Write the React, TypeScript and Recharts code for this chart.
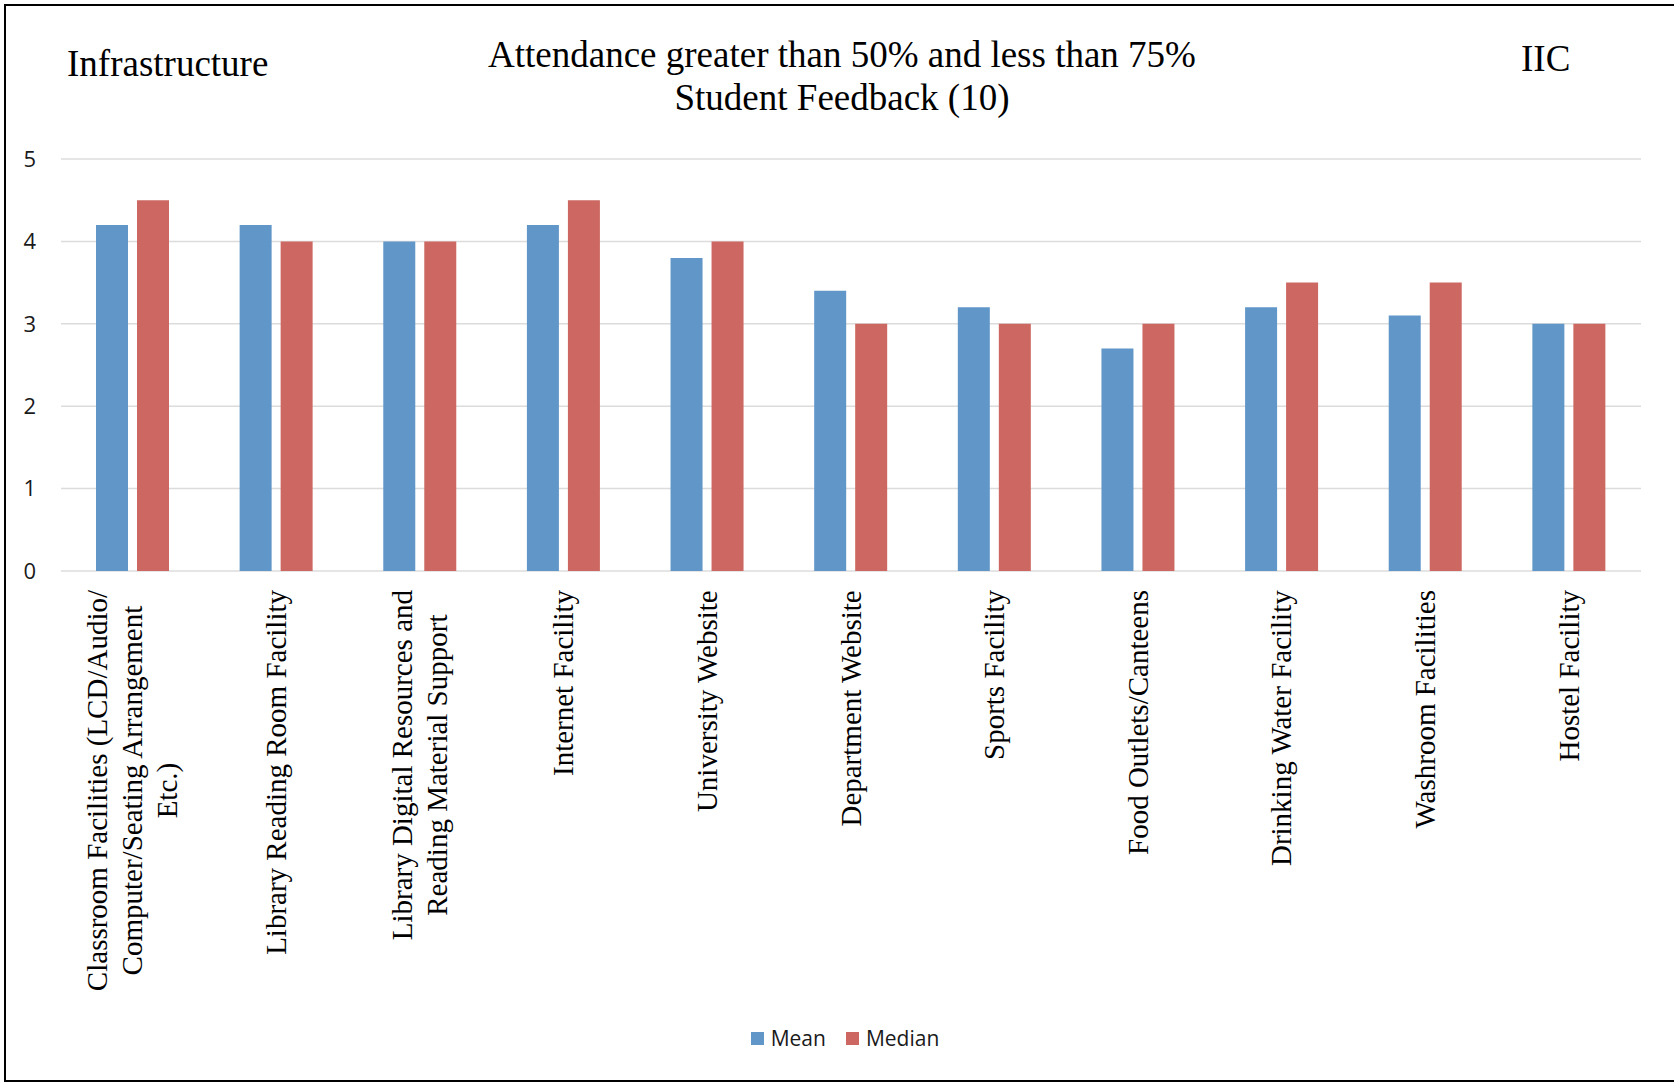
import { BarChart, Bar, XAxis, YAxis, CartesianGrid, Legend } from 'recharts'

const CATEGORIES = [
  ['Classroom Facilities (LCD/Audio/', 'Computer/Seating Arrangement', 'Etc.)'],
  ['Library Reading Room Facility'],
  ['Library Digital Resources and', 'Reading Material Support'],
  ['Internet Facility'],
  ['University Website'],
  ['Department Website'],
  ['Sports Facility'],
  ['Food Outlets/Canteens'],
  ['Drinking Water Facility'],
  ['Washroom Facilities'],
  ['Hostel Facility'],
]
const MEAN = [4.2, 4.2, 4.0, 4.2, 3.8, 3.4, 3.2, 2.7, 3.2, 3.1, 3.0]
const MEDIAN = [4.5, 4.0, 4.0, 4.5, 4.0, 3.0, 3.0, 3.0, 3.5, 3.5, 3.0]
const Y_TICKS = [0, 1, 2, 3, 4, 5]

const SERIES = [
  { key: 'mean', name: 'Mean', color: '#6196C8' },
  { key: 'median', name: 'Median', color: '#CD6761' },
]

const data = CATEGORIES.map((lines, i) => ({
  name: lines.join('\n'),
  mean: MEAN[i],
  median: MEDIAN[i],
}))

const SERIF = "'Liberation Serif', 'Times New Roman', serif"
const SANS = "'Open Sans', 'Liberation Sans', sans-serif"
const LABEL_SIZE = 29
const LABEL_LINE = 35
const LABEL_OFFSET = 19

let ctx: CanvasRenderingContext2D | null = null
function textWidth(s: string) {
  if (!ctx) ctx = document.createElement('canvas').getContext('2d')
  if (!ctx) return s.length * LABEL_SIZE * 0.45
  ctx.font = `${LABEL_SIZE}px 'Liberation Serif'`
  return ctx.measureText(s).width
}

function CategoryTick({ x, y, payload }: { x?: number; y?: number; payload?: { value: string } }) {
  const lines = String(payload?.value ?? '').split('\n')
  const w = Math.max(...lines.map(textWidth))
  return (
    <g transform={`translate(${x},${y})`}>
      <text transform="rotate(-90)" textAnchor="middle" fontFamily={SERIF} fontSize={LABEL_SIZE} fill="#000">
        {lines.map((l, i) => (
          <tspan key={i} x={-(LABEL_OFFSET + w / 2)} y={(i - (lines.length - 1) / 2) * LABEL_LINE} dy="0.33em">
            {l}
          </tspan>
        ))}
      </text>
    </g>
  )
}

function LegendBox() {
  return (
    <div style={{ display: 'flex', justifyContent: 'center', alignItems: 'center', height: 40, fontFamily: SANS, fontSize: 21, color: '#1a1a1a' }}>
      {SERIES.map((s, i) => (
        <span key={s.key} style={{ display: 'flex', alignItems: 'center', marginLeft: i ? 20 : 0 }}>
          <span style={{ width: 13, height: 13, background: s.color, display: 'inline-block', marginRight: 7 }} />
          {s.name}
        </span>
      ))}
    </div>
  )
}

export default function App() {
  return (
    <div style={{ position: 'fixed', left: 0, top: 0, width: 1674, height: 1084, background: '#fff', overflow: 'hidden' }}>
      <BarChart
        width={1674}
        height={1084}
        data={data}
        margin={{ top: 159, right: 33, left: 0, bottom: 26 }}
        barSize={32}
        barGap={9}
      >
        <CartesianGrid vertical={false} stroke="#DCDCDC" strokeWidth={1.5} />
        <XAxis
          dataKey="name"
          interval={0}
          height={447}
          tickLine={false}
          axisLine={false}
          tickSize={0}
          tickMargin={0}
          tick={<CategoryTick />}
        />
        <YAxis
          domain={[0, 5]}
          ticks={Y_TICKS}
          width={61}
          axisLine={false}
          tickLine={false}
          tickSize={0}
          tickMargin={25}
          tick={{ fontFamily: SANS, fontSize: 22, fill: '#1a1a1a' }}
        />
        <Legend verticalAlign="bottom" content={<LegendBox />} wrapperStyle={{ left: 0, width: 1690 }} />
        {SERIES.map((s) => (
          <Bar key={s.key} dataKey={s.key} name={s.name} fill={s.color} isAnimationActive={false} />
        ))}
      </BarChart>

      {/* titles */}
      <div style={{ position: 'absolute', left: 67, top: 42, fontFamily: SERIF, fontSize: 37, lineHeight: '43px', color: '#000' }}>
        Infrastructure
      </div>
      <div style={{ position: 'absolute', left: 442, width: 800, top: 33, textAlign: 'center', fontFamily: SERIF, fontSize: 37, lineHeight: '43px', color: '#000' }}>
        Attendance greater than 50% and less than 75%
        <br />
        Student Feedback (10)
      </div>
      <div style={{ position: 'absolute', left: 1521, top: 37, fontFamily: SERIF, fontSize: 37, lineHeight: '43px', color: '#000' }}>
        IIC
      </div>

      {/* frame, right edge falls outside the picture */}
      <div style={{ position: 'absolute', left: 4, top: 4, width: 1674, height: 1078, border: '2px solid #000', boxSizing: 'border-box', pointerEvents: 'none' }} />
    </div>
  )
}
